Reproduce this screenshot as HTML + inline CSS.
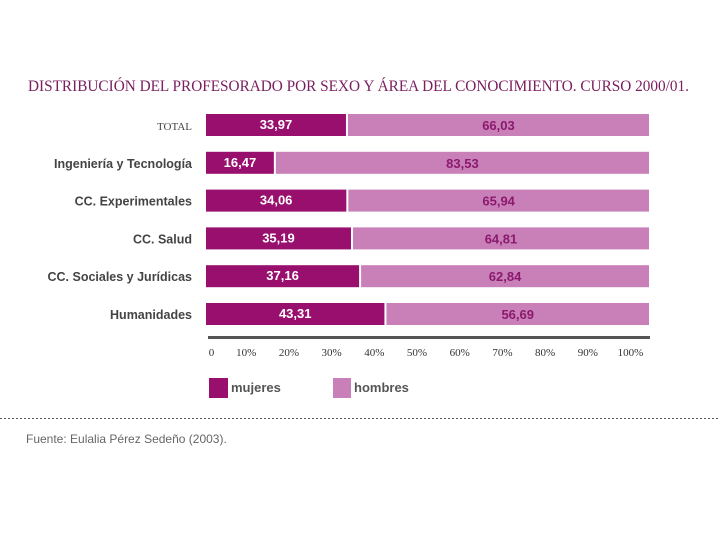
<!DOCTYPE html>
<html><head><meta charset="utf-8"><style>
body{margin:0;background:#fff;width:720px;height:540px;overflow:hidden;font-family:"Liberation Sans",sans-serif}
svg{display:block}
</style></head><body>
<svg width="720" height="540">
<text x="28" y="91" font-family="Liberation Serif,serif" font-size="15.5" fill="#7a2060" textLength="661" lengthAdjust="spacingAndGlyphs">DISTRIBUCIÓN DEL PROFESORADO POR SEXO Y ÁREA DEL CONOCIMIENTO. CURSO 2000/01.</text>
<g id="bars"></g>
<rect x="208" y="336" width="442" height="3" fill="#555"/>
<g id="ticks"></g>
<rect x="209" y="378" width="19" height="20" fill="#990f6e"/>
<text x="231" y="392" font-size="13" font-weight="bold" fill="#555">mujeres</text>
<rect x="333" y="378" width="18" height="20" fill="#c97fb8"/>
<text x="354" y="392" font-size="13" font-weight="bold" fill="#555">hombres</text>
<line x1="0" y1="418.5" x2="720" y2="418.5" stroke="#555" stroke-dasharray="2,2"/>
<text x="26" y="443" font-size="12" fill="#666">Fuente: Eulalia Pérez Sedeño (2003).</text>
</svg>
<script>
const categories=["TOTAL","Ingeniería y Tecnología","CC. Experimentales","CC. Salud","CC. Sociales y Jurídicas","Humanidades"];
const mujeres=[33.97,16.47,34.06,35.19,37.16,43.31];
const hombres=[66.03,83.53,65.94,64.81,62.84,56.69];
const tickLabels=["0","10%","20%","30%","40%","50%","60%","70%","80%","90%","100%"];
const tickValues=[0,10,20,30,40,50,60,70,80,90,100];
const NS="http://www.w3.org/2000/svg";
const x0=206;
const xm=v=>x0+4.12*v;
const xt=v=>x0+4.43*v;
const xTick=v=>203.5+4.27*v;
const rowY=i=>125+i*37.8;
const fmt=v=>v.toFixed(2).replace('.',',');
function mk(t,a,p){const e=document.createElementNS(NS,t);for(const k in a)e.setAttribute(k,a[k]);p.appendChild(e);return e;}
const g=document.getElementById('bars');
categories.forEach((c,i)=>{
  const cy=rowY(i);
  const lab=mk('text',{x:192,y:cy+5,'text-anchor':'end','font-size':i==0?11:12.5,'font-weight':i==0?'normal':'bold',fill:'#444','font-family':i==0?'Liberation Serif,serif':'Liberation Sans,sans-serif'},g);
  lab.textContent=c;
  
  
  const me=xm(mujeres[i]);
  const r1=mk('rect',{x:x0,y:cy-11,width:me-x0,height:22,fill:'#990f6e'},g);
  
  
  const hx=me+2;
  const r2=mk('rect',{x:hx,y:cy-11,width:Math.max(0,xt(mujeres[i]+hombres[i])-hx),height:22,fill:'#c97fb8'},g);
  
  
  const t1=mk('text',{x:(x0+me)/2,y:cy+4,'text-anchor':'middle','font-size':13,'font-weight':'bold',fill:'#fff'},g);
  t1.textContent=fmt(mujeres[i]);
  
  
  const t2=mk('text',{x:(hx+xt(mujeres[i]+hombres[i]))/2,y:cy+5,'text-anchor':'middle','font-size':13,'font-weight':'bold',fill:'#8b1a6e'},g);
  t2.textContent=fmt(hombres[i]);
  
  
});
const tg=document.getElementById('ticks');
tickValues.forEach((v,i)=>{
  const t=mk('text',{x:xTick(v)+(i==0?8:0),y:356,'text-anchor':'middle','font-size':11,fill:'#333','font-family':'Liberation Serif,serif'},tg);
  t.textContent=tickLabels[i];
  
  
});
</script>
</body></html>
